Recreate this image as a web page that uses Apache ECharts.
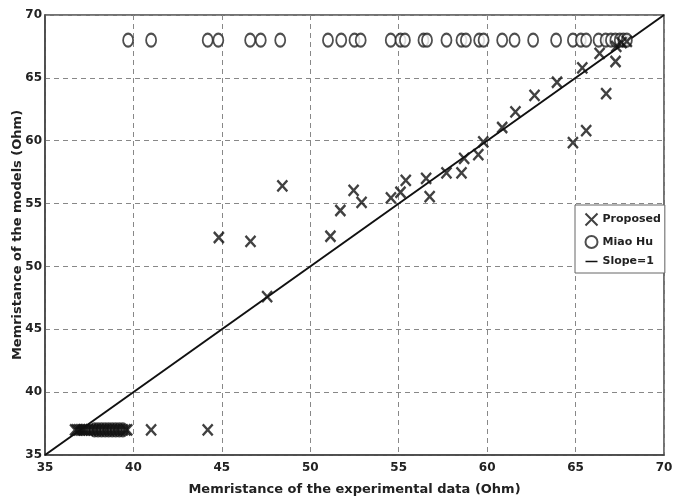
<!DOCTYPE html>
<html>
<head>
<meta charset="utf-8">
<script src="https://cdn.jsdelivr.net/npm/echarts@6/dist/echarts.min.js"></script>
<style>html,body{margin:0;padding:0;background:#fff}#c{width:683px;height:500px}</style>
</head>
<body>
<div id="c"></div>
<script>
var propX = [36.7,36.8,36.9,37.0,37.1,37.2,37.3,37.45,37.6,37.75,37.9,38.05,38.2,38.35,38.5,38.65,38.8,38.95,39.1,39.25,39.4,39.55,39.65,41.0,44.2,
  44.83,46.62,47.56,48.42,51.14,51.7,52.45,52.9,54.56,55.1,55.4,56.55,56.75,57.7,58.55,58.7,59.5,59.78,
  60.85,61.6,62.68,63.95,64.85,65.38,65.6,66.36,66.73,67.26,67.3,67.6,67.9];
var propY = [37,37,37,37,37,37,37,37,37,37,37,37,37,37,37,37,37,37,37,37,37,37,37,37,37,
  52.3,52.0,47.6,56.4,52.4,54.45,56.05,55.1,55.45,55.9,56.85,57.0,55.55,57.45,57.45,58.6,58.9,59.9,
  61.05,62.3,63.6,64.65,59.85,65.8,60.8,66.95,63.75,66.3,67.5,67.8,67.9];
var miaoX = [37.8,38.0,38.2,38.4,38.6,38.8,39.0,39.2,39.4,
  39.7,41.0,44.2,44.8,46.6,47.2,48.3,51.0,51.75,52.5,52.85,54.55,55.1,55.35,56.4,56.6,57.7,58.55,58.8,
  59.55,59.8,60.85,61.55,62.6,63.9,64.85,65.3,65.6,66.3,66.7,67.0,67.25,67.5,67.7,67.9];
var miaoY = [37,37,37,37,37,37,37,37,37,
  68,68,68,68,68,68,68,68,68,68,68,68,68,68,68,68,68,68,68,
  68,68,68,68,68,68,68,68,68,68,68,68,68,68,68,68];
var lineX = [35,70];
var lineY = [35,70];
var xTicks = [35,40,45,50,55,60,65,70];

function zip(a,b){return a.map(function(v,i){return [v,b[i]];});}
var xPath = 'path://M0,0L10,10M10,0L0,10';

var chart = echarts.init(document.getElementById('c'));
var labelStyle = {color:'#222', fontWeight:'bold', fontSize:12, fontFamily:'DejaVu Sans'};
chart.setOption({
  animation:false,
  backgroundColor:'#fff',
  grid:{left:45,right:19,top:15,bottom:45,outerBoundsMode:'none',containLabel:false,show:true,borderColor:'#444',borderWidth:1.5},
  xAxis:{type:'value',min:xTicks[0],max:xTicks[xTicks.length-1],interval:5,
    name:'Memristance of the experimental data (Ohm)',nameLocation:'middle',nameGap:28,nameMoveOverlap:false,
    nameTextStyle:{color:'#222',fontWeight:'bold',fontSize:13,fontFamily:'DejaVu Sans'},
    axisLine:{lineStyle:{color:'#444',width:1.5}},axisTick:{show:false},
    axisLabel:Object.assign({margin:7},labelStyle),
    splitLine:{lineStyle:{color:'#888',type:[5,4],width:1}}},
  yAxis:{type:'value',min:35,max:70,interval:5,
    name:'Memristance of the models (Ohm)',nameLocation:'middle',nameGap:21,nameMoveOverlap:false,
    nameTextStyle:{color:'#222',fontWeight:'bold',fontSize:13,fontFamily:'DejaVu Sans'},
    axisLine:{lineStyle:{color:'#444',width:1.5}},axisTick:{show:false},
    axisLabel:Object.assign({margin:3},labelStyle),
    splitLine:{lineStyle:{color:'#888',type:[5,4],width:1}}},
  legend:{orient:'vertical',left:575,top:205,
    backgroundColor:'#fff',borderColor:'#666',borderWidth:1,padding:[6,4,6,8],itemGap:7,
    itemWidth:12,itemHeight:12,
    textStyle:{color:'#222',fontWeight:'bold',fontSize:11,fontFamily:'DejaVu Sans'},
    data:[{name:'Proposed'},{name:'Miao Hu'},
      {name:'Slope=1',icon:'path://M0,10H20V12.5H0Z'}]},
  series:[
    {name:'Slope=1',type:'line',data:zip(lineX,lineY),symbol:'none',
      lineStyle:{color:'#111',width:2},itemStyle:{color:'#111'},z:2},
    {name:'Miao Hu',type:'scatter',data:zip(miaoX,miaoY),symbol:'emptyCircle',symbolSize:[10,13],
      itemStyle:{color:'#222',borderColor:'#222',borderWidth:2.2},z:3},
    {name:'Proposed',type:'scatter',data:zip(propX,propY),symbol:xPath,symbolSize:[10,11],
      itemStyle:{color:'none',borderColor:'#111',borderWidth:2.4},z:4}
  ]
});
</script>
</body>
</html>
